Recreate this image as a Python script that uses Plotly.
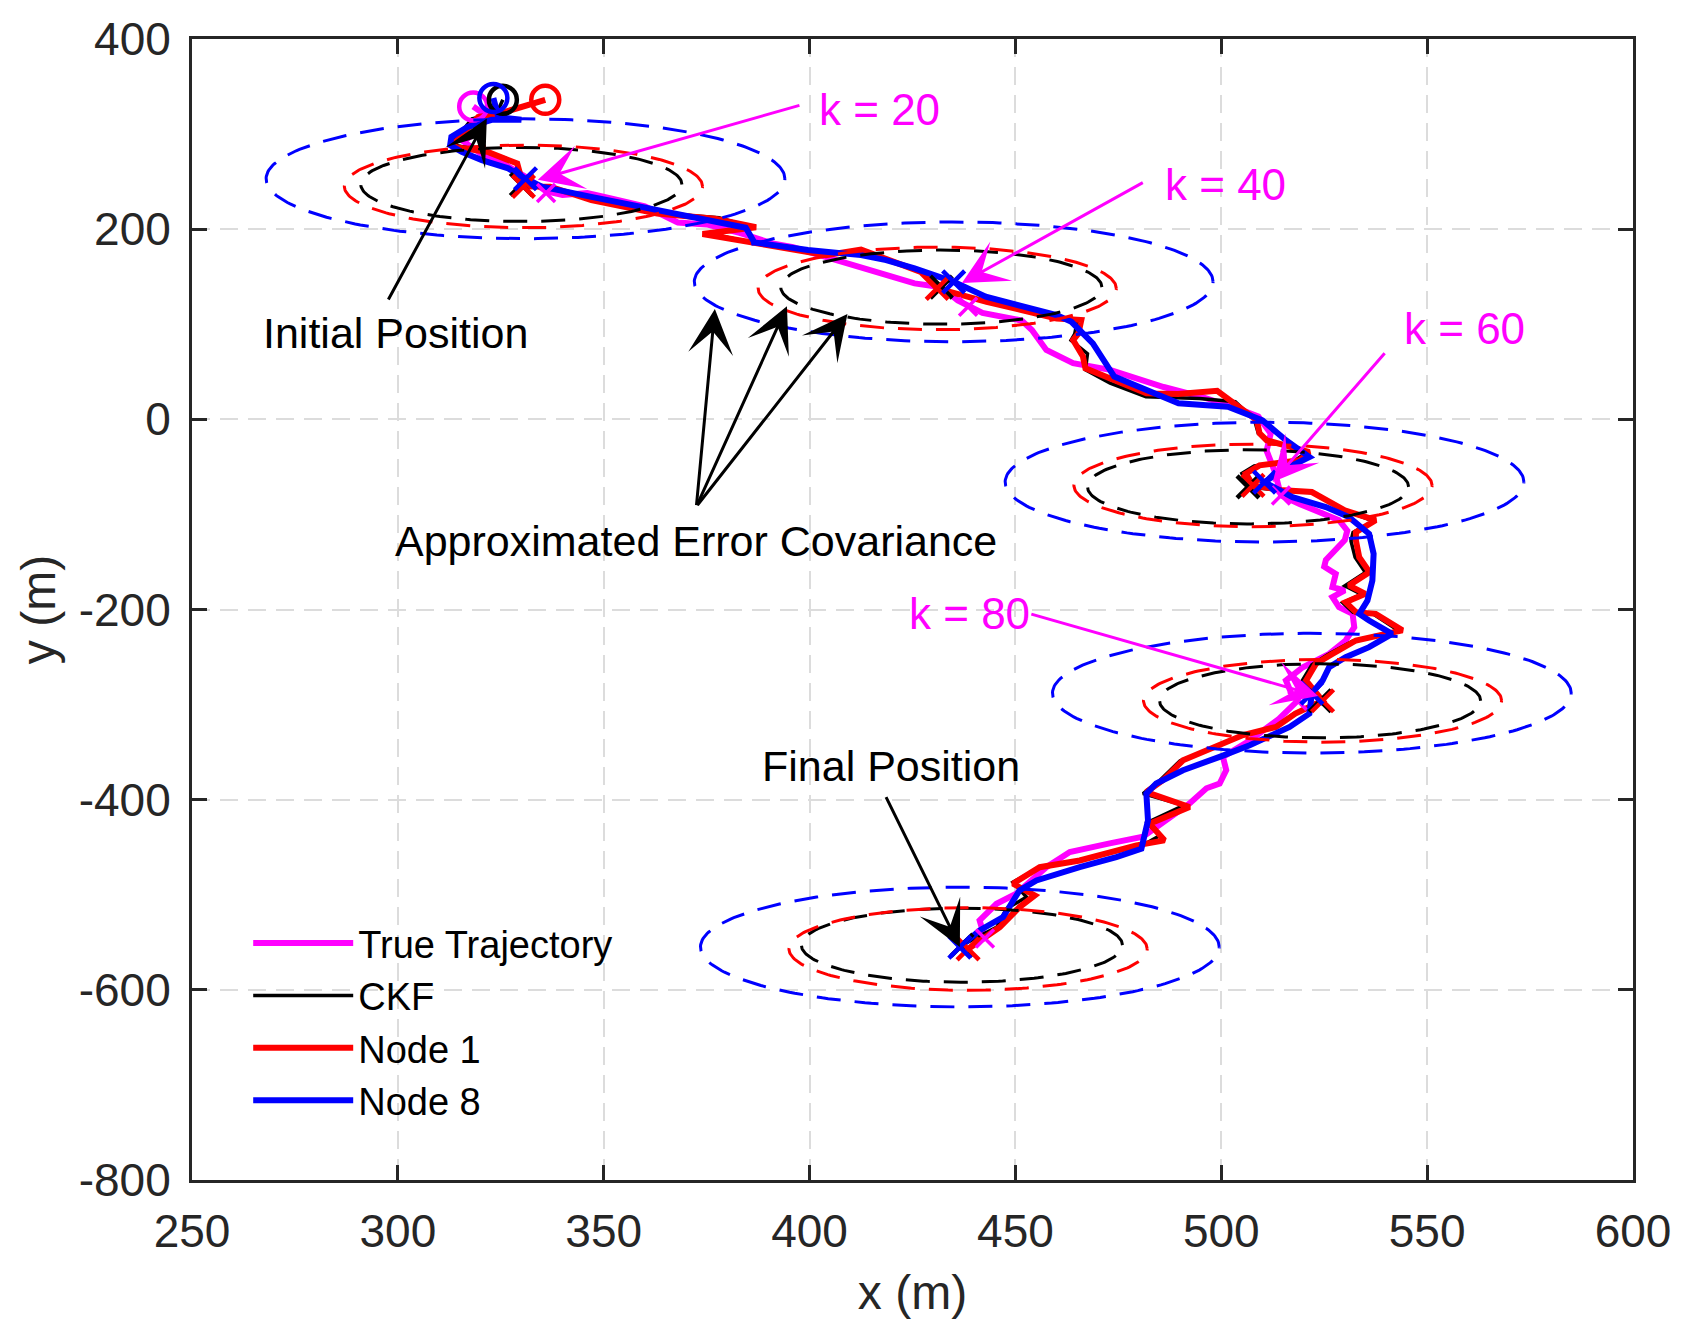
import numpy as np
import plotly.graph_objects as go

# ---------------- data ----------------
true_x = [318.3, 322, 320, 316, 320, 326, 331, 336, 340, 346, 352, 360, 368, 375, 383, 391, 396, 405,
          412.5, 420, 425.5, 432, 436, 442, 451.5, 454, 457.5, 464, 473, 486, 495, 503, 509, 512, 511,
          513, 514.5, 519, 528.6, 530.6, 530, 525.4, 525, 527.8, 527, 530, 527, 528.6, 531.9, 532.3,
          530.2, 526.2, 519.8, 515.7, 517, 518.5, 514, 507, 500.4, 501.2, 499.6, 496.4, 492.3, 485.8,
          481, 472.9, 463.2, 457.5, 450.2, 445.4, 441.3, 442.6]
true_y = [329, 318, 306, 292, 280, 268, 255, 240, 236, 238, 232, 224, 207, 205, 196, 185, 181, 169,
          158.6, 150, 143, 139, 125, 112, 104, 94, 73, 59, 52, 34, 24, 13, 3, -15, -33,
          -55, -80, -89, -106, -117, -127, -148, -155, -162.5, -176.5, -180, -187, -197.5, -204.6, -218.6,
          -232.6, -246.7, -260.7, -274.7, -288, -296, -315, -337.5, -355, -369, -383, -388, -404, -425,
          -439, -446, -455, -471, -499, -509.5, -527, -546]

ckf_x = [325.5, 324, 318, 313, 321, 326, 329, 330, 337, 347, 363, 378, 386, 375, 386, 396, 404, 412,
         415, 427, 432, 434, 443, 451, 460, 465, 464.4, 463.5, 467.5, 467, 473, 481.7, 494.7, 503.4,
         508, 509, 511, 521, 518, 508, 505, 506.5, 515, 522, 530, 537, 532, 531.5, 532.5, 535, 530,
         534, 529.5, 532, 537, 543, 539, 532, 526, 522, 519.5, 524, 517.5, 513, 505, 499, 490, 485,
         481, 490.9, 482, 485, 481, 465, 455.5, 449.4, 452.7, 447.8, 445.5, 437]
ckf_y = [336, 322, 316, 289, 282, 275, 268, 247, 244, 231, 217, 212, 202, 196, 186, 179, 173, 178,
         174, 155, 139, 134, 124, 115, 106, 103, 90, 83, 69, 52, 38, 23.8, 22, 18.6,
         0, -15, -22, -34, -43, -49, -57, -71, -75, -77, -96, -107, -119, -128, -145, -161, -175,
         -184, -193, -203, -205, -222, -226, -233, -247, -258, -276, -296, -310, -324, -333, -344, -359, -380,
         -393.7, -406, -424, -438, -447.8, -464, -472, -486.7, -502.5, -514.7, -534, -553]

node1_x = [335.8, 325, 319.5, 313, 322, 326, 329, 330.5, 337, 347, 363, 377, 387, 374, 387, 396, 404,
           412.5, 415, 427, 431, 434, 443, 451.5, 460, 466, 465.3, 464, 466.4, 467, 474, 481.8, 489.5,
           499, 508.6, 509.3, 511, 521.4, 519, 509.3, 506, 507.7, 515, 522, 530, 537.5, 532.7, 532.7,
           533.5, 536, 531, 535, 530.2, 532.7, 537.5, 544, 540, 532.7, 527, 523, 520.6, 524.6, 518,
           513.3, 505.3, 499.6, 490.7, 485.8, 481.8, 492.3, 482.6, 486.2, 479.4, 465.6, 455.9, 449.4,
           454.7, 451, 446.2, 438.5]
node1_y = [336, 322, 318, 287, 281, 274, 269, 245, 244.6, 230.5, 216.5, 211, 202, 195, 185, 178, 172.7,
           178.6, 174.4, 155, 137.7, 134, 123.6, 115, 106, 104.4, 90.4, 83.4, 66, 53.6, 41.3, 27.3, 26.6,
           30, -0.7, -14.7, -22, -34.4, -43, -48.4, -57, -69.5, -74.7, -76.5, -95.8, -106, -118.6, -127.4,
           -145, -160.7, -174.7, -183.5, -192.3, -202.8, -204.6, -222, -225.6, -232.6, -246.7, -257, -274.7,
           -296, -309.5, -323.5, -332, -342.8, -358.6, -379.6, -392, -407.7, -425.3, -442.8, -448, -464,
           -471, -488.4, -500.7, -513, -534, -557]

node8_x = [323.2, 324.4, 330, 322.8, 317, 313, 312.7, 315.5, 320.4, 326.8, 331, 335, 347, 363, 376,
           384.5, 386.6, 399.6, 412.5, 418.6, 425.5, 435, 442.8, 451.5, 460, 463.6, 468.8, 474, 481.8,
           489.6, 501.6, 510, 515.7, 521.4, 514.9, 510.5, 517.3, 525.4, 531, 535.9, 537, 536.7, 535.5,
           533.5, 535.9, 541.5, 535.9, 530.2, 526.2, 524.6, 522, 521.4, 516.6, 506.9, 499.6, 490.7,
           484.2, 481.8, 482.2, 480.6, 474.5, 465.6, 455.1, 451, 447, 441.3, 436.5]
node8_y = [338, 318, 315, 315, 307.7, 297, 288.4, 281.4, 272.6, 264, 253, 244.6, 234, 220, 209.5,
           201.5, 186, 178, 172.7, 167.4, 158.7, 144.6, 128.9, 118.4, 109.6, 102.6, 80, 45, 30.8,
           16.8, 13.3, -1, -22, -39.6, -53.7, -66, -81.8, -92.3, -102.8, -120.4, -141.4, -169.5, -190.5,
           -204.6, -211.6, -225.6, -239.6, -250.2, -260.7, -274.7, -288, -309.5, -323.5, -342.8, -355, -369,
           -383, -393.7, -421.8, -451.6, -460.4, -470.9, -485, -495.4, -523.5, -537.5, -555]

# positions at k = 20, 40, 60, 80, 100
k_labels = ["k = 20", "k = 40", "k = 60", "k = 80"]
true_kx = [336, 438.5, 514.5, 518.5, 442.6]
true_ky = [238, 118.4, -80, -296, -546]
ckf_kx = [330, 432, 506.5, 524, 437]
ckf_ky = [247, 139, -71, -296, -553]
node1_kx = [330.5, 431, 507.7, 524.6, 438.5]
node1_ky = [245, 137.7, -69.5, -296, -557]
node8_kx = [331, 435, 510.5, 522, 436.5]
node8_ky = [253, 144.6, -66, -288, -555]

# covariance bound radii (data units) for each k
ckf_r = [39, 39, 39, 39, 39]
node1_r = [43.5, 43.5, 43.5, 43.5, 43.5]
node8_r = [63, 63, 63, 63, 63]

# axis ticks
x_ticks = [250, 300, 350, 400, 450, 500, 550, 600]
y_ticks = [-800, -600, -400, -200, 0, 200, 400]
y_tick_text = ["-800", "-600", "-400", "-200", "0", "200", "400"]

# ---------------- figure ----------------
MAG = "#ff00ff"
FONT = "Liberation Sans, Arial, sans-serif"
fig = go.Figure()

series = [
    ("True Trajectory", true_x, true_y, true_kx, true_ky, MAG, 6),
    ("CKF", ckf_x, ckf_y, ckf_kx, ckf_ky, "#000000", 3.5),
    ("Node 1", node1_x, node1_y, node1_kx, node1_ky, "#ff0000", 6),
    ("Node 8", node8_x, node8_y, node8_kx, node8_ky, "#0000ff", 6),
]
for name, xs, ys, kx, ky, col, w in series:
    fig.add_trace(go.Scatter(x=xs, y=ys, mode="lines", name=name,
                             line=dict(color=col, width=w)))
for name, xs, ys, kx, ky, col, w in series:
    fig.add_trace(go.Scatter(x=[xs[0]], y=[ys[0]], mode="markers", showlegend=False,
                             marker=dict(symbol="circle-open", size=28, color=col,
                                         line=dict(width=4.5, color=col))))
    fig.add_trace(go.Scatter(x=kx, y=ky, mode="markers", showlegend=False,
                             marker=dict(symbol="x-thin-open", size=22 if col != MAG else 18,
                                         color=col, line=dict(width=4.5 if col != MAG else 3.5, color=col))))

# covariance ellipses (circles in data units around each estimate)
theta = np.linspace(0, 2 * np.pi, 240)
for kx, ky, rr, col in [(ckf_kx, ckf_ky, ckf_r, "#000000"),
                        (node1_kx, node1_ky, node1_r, "#ff0000"),
                        (node8_kx, node8_ky, node8_r, "#0000ff")]:
    for cx, cy, r in zip(kx, ky, rr):
        fig.add_trace(go.Scatter(x=cx + r * np.cos(theta), y=cy + r * np.sin(theta),
                                 mode="lines", showlegend=False, hoverinfo="skip",
                                 line=dict(color=col, width=3, dash="24px,14px")))

ann = []
# k labels with magenta arrows
k_text_pos = [(401.8, 326), (485.8, 247.5), (544, 96), (423.6, -204.4)]
k_tail = [(397.9, 330.6), (481.3, 249.8), (540, 71), (453.5, -204.4)]
k_tip = [(334, 252), (437, 143.5), (512.5, -66), (523.5, -291)]
for lab, (tx, ty) in zip(k_labels, k_text_pos):
    ann.append(dict(x=tx, y=ty, xref="x", yref="y", text=lab, showarrow=False,
                    xanchor="left", yanchor="middle", font=dict(family=FONT, size=44, color=MAG)))
for (ax_, ay_), (x_, y_) in zip(k_tail, k_tip):
    ann.append(dict(x=x_, y=y_, ax=ax_, ay=ay_, xref="x", yref="y", axref="x", ayref="y",
                    text="", showarrow=True, arrowhead=3, arrowsize=2.5, arrowwidth=3,
                    arrowcolor=MAG))

# black labels and arrows
black_texts = [("Initial Position", 266.8, 90.4), ("Approximated Error Covariance", 298.8, -128.2),
               ("Final Position", 388, -365)]
for t, tx, ty in black_texts:
    ann.append(dict(x=tx, y=ty, xref="x", yref="y", text=t, showarrow=False,
                    xanchor="left", yanchor="middle", font=dict(family=FONT, size=43, color="#000000")))
black_arrows = [((297.5, 124.5), (321.6, 316.5)),
                ((372.5, -91.7), (377, 116)),
                ((372.5, -91.7), (394.5, 118.8)),
                ((372.5, -91.7), (409.2, 110.9)),
                ((418.4, -395.7), (436.5, -555))]
for (ax_, ay_), (x_, y_) in black_arrows:
    ann.append(dict(x=x_, y=y_, ax=ax_, ay=ay_, xref="x", yref="y", axref="x", ayref="y",
                    text="", showarrow=True, arrowhead=3, arrowsize=2.5, arrowwidth=3,
                    arrowcolor="#000000"))

axis_common = dict(showline=True, linewidth=3, linecolor="#262626", mirror="ticks",
                   ticks="inside", ticklen=15, tickwidth=3, tickcolor="#262626",
                   showgrid=True, gridcolor="#dcdcdc", gridwidth=2, griddash="18px,10px",
                   zeroline=False, ticklabelstandoff=9, automargin=False,
                   tickfont=dict(family=FONT, size=46, color="#262626"))

fig.update_layout(
    width=1697, height=1339,
    margin=dict(l=184, r=72, t=31, b=167),
    paper_bgcolor="white", plot_bgcolor="white",
    xaxis=dict(range=[250, 600], tickvals=x_ticks, ticktext=[str(v) for v in x_ticks],
               title=dict(text="x (m)", font=dict(family=FONT, size=48, color="#262626"), standoff=20),
               **axis_common),
    yaxis=dict(range=[-800, 400], tickvals=y_ticks, ticktext=y_tick_text,
               title=dict(text="y (m)", font=dict(family=FONT, size=48, color="#262626"), standoff=8),
               **axis_common),
    legend=dict(x=0.039, y=0.235, xanchor="left", yanchor="top", bgcolor="rgba(0,0,0,0)",
                font=dict(family=FONT, size=38, color="#000000"), itemwidth=100,
                tracegroupgap=0),
    annotations=ann,
    showlegend=True,
)

fig.write_html("out.html")
